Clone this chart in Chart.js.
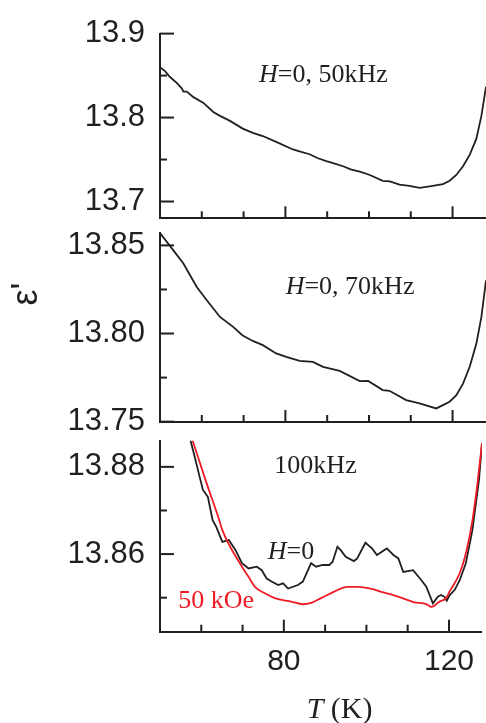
<!DOCTYPE html>
<html><head><meta charset="utf-8">
<script src="https://cdn.jsdelivr.net/npm/chart.js@4"></script>
<style>
html,body{margin:0;padding:0;background:#fff;width:486px;height:723px;overflow:hidden}
canvas{position:absolute;left:0;top:0}
</style></head><body>
<canvas id="c1" width="486" height="723"></canvas>
<canvas id="c2" width="486" height="723"></canvas>
<canvas id="c3" width="486" height="723"></canvas>
<script>
// ---------- shared x axis ----------
const T_MIN = 50, T_MAX = 128;
const T_TICKS  = [60, 70, 80, 90, 100, 110, 120];
const T_LABELS = ['', '', '80', '', '', '', '120'];

// ---------- panel 1 : H=0, 50 kHz ----------
const Y1_RANGE  = [13.68, 13.90];
const Y1_TICKS  = [13.70, 13.75, 13.80, 13.85, 13.90];
const Y1_LABELS = ['13.7', '', '13.8', '', '13.9'];
const T_50K = [50, 51.2, 52.4, 54.0, 55.2, 55.6, 56.4, 58.0, 60.4, 62.75, 64.35, 66.75, 69.8, 72.2, 74.6, 77.8, 81.8, 83.8, 85.8, 87.8, 89.8, 91.8, 93.8, 95.8, 97.8, 100.2, 103.3, 105.0, 107.3, 109.7, 112.1, 114.5, 117.7, 119.3, 120.9, 122.5, 124.1, 125.7, 126.9, 128];
const E_50K = [13.860, 13.8553, 13.8483, 13.8414, 13.8348, 13.8310, 13.8310, 13.8243, 13.8174, 13.8066, 13.8020, 13.7960, 13.7868, 13.7818, 13.7780, 13.7710, 13.7620, 13.7590, 13.7563, 13.7515, 13.7480, 13.7452, 13.7420, 13.7380, 13.7355, 13.7316, 13.7247, 13.7239, 13.7200, 13.7185, 13.7162, 13.7180, 13.7208, 13.7247, 13.7316, 13.7420, 13.7556, 13.7749, 13.8020, 13.8367];

// ---------- panel 2 : H=0, 70 kHz ----------
const Y2_RANGE  = [13.7498, 13.8572];
const Y2_TICKS  = [13.75, 13.775, 13.80, 13.825, 13.85];
const Y2_LABELS = ['13.75', '', '13.80', '', '13.85'];
const T_70K = [50, 53.2, 55.6, 58.8, 61.2, 64.35, 67.5, 69.7, 72.2, 74.6, 77.8, 80.2, 83.4, 86.6, 89.0, 93.0, 97.8, 99.8, 103.3, 104.9, 108.9, 112.1, 116.1, 117.7, 119.3, 120.9, 122.5, 124.1, 125.7, 126.9, 128];
const E_70K = [13.857, 13.8472, 13.8397, 13.8264, 13.8189, 13.8094, 13.8038, 13.7990, 13.7958, 13.7934, 13.7887, 13.7867, 13.7845, 13.7839, 13.7811, 13.7788, 13.7730, 13.7731, 13.7679, 13.7675, 13.7622, 13.7604, 13.7575, 13.7594, 13.7613, 13.7650, 13.7716, 13.7811, 13.7943, 13.8094, 13.8302];

// ---------- panel 3 : 100 kHz, H=0 and 50 kOe ----------
const Y3_RANGE  = [13.8422, 13.8860];
const Y3_TICKS  = [13.85, 13.86, 13.87, 13.88];
const Y3_LABELS = ['', '13.86', '', '13.88'];
const T_100K_H0 = [57.0, 58.4, 59.6, 60.4, 61.6, 62.75, 63.6, 65.1, 66.7, 68.3, 69.86, 71.45, 73.45, 74.64, 75.84, 77.03, 78.63, 79.82, 81.02, 83.41, 84.61, 86.6, 87.8, 89.39, 90.99, 91.79, 92.98, 93.78, 94.98, 96.97, 97.77, 99.76, 101.36, 102.55, 104.94, 106.54, 107.74, 108.93, 111.32, 113.32, 114.51, 116.11, 117.3, 118.1, 118.9, 119.46, 120.2, 121.4, 122.6, 124.08, 125.68, 127.27, 127.99];
const E_100K_H0 = [13.8875, 13.8823, 13.8777, 13.8747, 13.8731, 13.8678, 13.8663, 13.8628, 13.8632, 13.8609, 13.8579, 13.8567, 13.8571, 13.8563, 13.8544, 13.8537, 13.8529, 13.8533, 13.8521, 13.8529, 13.8537, 13.8579, 13.8571, 13.8575, 13.8575, 13.8582, 13.8617, 13.8609, 13.8594, 13.8584, 13.8590, 13.8626, 13.8613, 13.8598, 13.8613, 13.8598, 13.8590, 13.8559, 13.8563, 13.8540, 13.8525, 13.8487, 13.8502, 13.8506, 13.8502, 13.8493, 13.8506, 13.8518, 13.8540, 13.8579, 13.8655, 13.8770, 13.8854];
const T_100K_50KOE = [57.4, 61.2, 64.35, 65.1, 69.86, 71.45, 73.0, 75.4, 77.8, 81.8, 84.6, 86.6, 89.0, 92.2, 95.4, 97.8, 101.0, 104.1, 106.5, 109.0, 111.4, 114.5, 115.8, 117.7, 119.3, 120.2, 122.6, 124.1, 125.7, 126.9, 128];
const E_100K_50KOE = [13.8875, 13.8765, 13.8678, 13.8655, 13.8571, 13.8548, 13.8525, 13.8510, 13.8499, 13.8491, 13.8485, 13.8488, 13.8499, 13.8514, 13.8525, 13.8525, 13.8521, 13.8512, 13.8506, 13.8498, 13.8490, 13.8485, 13.8479, 13.8491, 13.8499, 13.8515, 13.8556, 13.8602, 13.8678, 13.8762, 13.8854];

const INK = '#231f20', RED = '#ed1c24';
const SANS = '"Liberation Sans", Arial, sans-serif';
const SERIF = '"Liberation Serif", "Times New Roman", serif';

function pts(xs, ys) { return xs.map((x, i) => ({x: x, y: ys[i]})); }

function richWidth(ctx, segs, size) {
  let w = 0;
  segs.forEach(s => { ctx.font = (s.i ? 'italic ' : '') + size + 'px ' + SERIF; w += ctx.measureText(s.t).width; });
  return w;
}
function drawRich(ctx, x, y, segs, size, color) {
  ctx.save();
  ctx.fillStyle = color; ctx.textAlign = 'left'; ctx.textBaseline = 'alphabetic';
  let cx = x;
  segs.forEach(s => {
    ctx.font = (s.i ? 'italic ' : '') + size + 'px ' + SERIF;
    ctx.fillText(s.t, cx, y);
    cx += ctx.measureText(s.t).width;
  });
  ctx.restore();
}

function decor(yTicks, yLabels, notes, extra) {
  return {
    id: 'decor',
    afterDatasetsDraw(chart) {
      const {ctx, chartArea: a, scales: {x, y}} = chart;
      ctx.save();
      ctx.strokeStyle = INK; ctx.lineWidth = 2; ctx.lineCap = 'butt';
      T_TICKS.forEach((t, i) => {
        const px = x.getPixelForValue(t), len = T_LABELS[i] ? 12 : 7;
        ctx.beginPath(); ctx.moveTo(px, a.bottom); ctx.lineTo(px, a.bottom - len); ctx.stroke();
      });
      yTicks.forEach((v, i) => {
        const py = y.getPixelForValue(v), len = yLabels[i] ? 14 : 7;
        ctx.beginPath(); ctx.moveTo(a.left, py); ctx.lineTo(a.left + len, py); ctx.stroke();
      });
      ctx.restore();
      notes.forEach(n => drawRich(ctx, x.getPixelForValue(n.T), y.getPixelForValue(n.v), n.segs, 26, n.color || INK));
      if (extra) extra(chart);
    }
  };
}

function makeChart(id, yRange, yTicks, yLabels, datasets, pad, showX, notes, extra) {
  return new Chart(document.getElementById(id), {
    type: 'line',
    data: {datasets: datasets},
    options: {
      responsive: false, animation: false, devicePixelRatio: 1,
      layout: {autoPadding: false, padding: pad},
      plugins: {legend: {display: false}, tooltip: {enabled: false}},
      elements: {point: {radius: 0}},
      scales: {
        x: {
          type: 'linear', min: T_MIN, max: T_MAX, position: 'bottom',
          afterBuildTicks: s => { s.ticks = T_TICKS.map(v => ({value: v})); },
          afterFit: s => { s.height = showX ? 91.3 : 0; },
          ticks: {display: showX, callback: (v, i) => T_LABELS[i], color: INK, padding: 12,
                  font: {family: SANS, size: 30}, maxRotation: 0, autoSkip: false},
          grid: {display: false, drawTicks: false},
          border: {display: true, color: INK, width: 2}
        },
        y: {
          type: 'linear', min: yRange[0], max: yRange[1],
          afterBuildTicks: s => { s.ticks = yTicks.map(v => ({value: v})); },
          afterFit: s => { s.width = 160; },
          ticks: {callback: (v, i) => yLabels[i], color: INK, padding: 15,
                  font: {family: SANS, size: 31}, autoSkip: false},
          grid: {display: false, drawTicks: false},
          border: {display: true, color: INK, width: 2}
        }
      }
    },
    plugins: [decor(yTicks, yLabels, notes, extra)]
  });
}

function line(xs, ys, color, smooth) {
  return {data: pts(xs, ys), borderColor: color, borderWidth: 1.8, fill: false,
          tension: 0, cubicInterpolationMode: smooth ? 'monotone' : 'default'};
}

makeChart('c1', Y1_RANGE, Y1_TICKS, Y1_LABELS,
  [line(T_50K, E_50K, INK, false)],
  {top: 28.7, bottom: 504.7, left: 0, right: 0}, false,
  [{T: 73.7, v: 13.8425, segs: [{t: 'H', i: true}, {t: '=0, 50kHz'}]}]);

makeChart('c2', Y2_RANGE, Y2_TICKS, Y2_LABELS,
  [line(T_70K, E_70K, INK, false)],
  {top: 232.7, bottom: 301, left: 0, right: 0}, false,
  [{T: 80.07, v: 13.8227, segs: [{t: 'H', i: true}, {t: '=0, 70kHz'}]}],
  chart => {
    const ctx = chart.ctx;
    ctx.save();
    ctx.translate(27, 294);
    ctx.rotate(-Math.PI / 2);
    ctx.fillStyle = INK; ctx.textAlign = 'center'; ctx.textBaseline = 'middle';
    ctx.font = '36px ' + SANS;
    ctx.fillText("\u03b5'", 0, 0);
    ctx.restore();
  });

makeChart('c3', Y3_RANGE, Y3_TICKS, Y3_LABELS,
  [line(T_100K_50KOE, E_100K_50KOE, RED, true), line(T_100K_H0, E_100K_H0, INK, false)],
  {top: 440.7, bottom: 0, left: 0, right: 0}, true,
  [{T: 77.7, v: 13.8785, segs: [{t: '100kHz'}]},
   {T: 76.1, v: 13.8588, segs: [{t: 'H', i: true}, {t: '=0'}]},
   {T: 54.4, v: 13.8476, segs: [{t: '50 kOe'}], color: RED}],
  chart => {
    const segs = [{t: 'T', i: true}, {t: ' (K)'}];
    const x = chart.scales.x;
    const w = richWidth(chart.ctx, segs, 30);
    drawRich(chart.ctx, x.getPixelForValue(93.5) - w / 2, chart.chartArea.bottom + 86.6, segs, 30, INK);
  });
</script>
</body></html>
